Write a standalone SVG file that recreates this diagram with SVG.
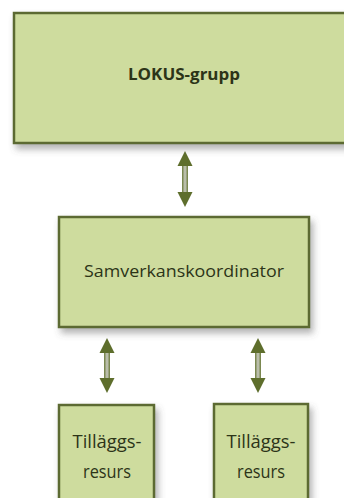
<svg xmlns="http://www.w3.org/2000/svg" width="344" height="498" viewBox="0 0 344 498">
<defs>
<filter id="sh" x="-20%" y="-20%" width="150%" height="150%">
<feDropShadow dx="3" dy="5" stdDeviation="3.5" flood-color="#555" flood-opacity="0.45"/>
</filter>
<linearGradient id="shaft" x1="0" y1="0" x2="1" y2="0">
<stop offset="0" stop-color="#6b7a3a"/>
<stop offset="0.5" stop-color="#c9cbc0"/>
<stop offset="1" stop-color="#6b7a3a"/>
</linearGradient>
<style>
.box{fill:#cedc9e;stroke:#5c6b33;stroke-width:2.5;filter:url(#sh)}
.t{font-family:"Open Sans","Liberation Sans",sans-serif;fill:#2c3418;text-anchor:middle}
.head{fill:#5e6e2c}
</style>
</defs>
<rect width="344" height="498" fill="#ffffff"/>
<g id="connectors">
<g id="c1">
<rect x="182" y="164" width="6" height="30" fill="url(#shaft)"/>
<polygon class="head" points="185,151 177.5,166 192.5,166"/>
<polygon class="head" points="185,207 177.5,192 192.5,192"/>
</g>
<g id="c2">
<rect x="104" y="351" width="6" height="30" fill="url(#shaft)"/>
<polygon class="head" points="107,338 99.5,353 114.5,353"/>
<polygon class="head" points="107,393 99.5,378 114.5,378"/>
</g>
<g id="c3">
<rect x="255" y="351" width="6" height="30" fill="url(#shaft)"/>
<polygon class="head" points="258,338 250.5,353 265.5,353"/>
<polygon class="head" points="258,393 250.5,378 265.5,378"/>
</g>
</g>
<g id="lokus">
<rect class="box" x="14" y="13" width="340" height="130"/>
<text class="t" x="184" y="80" font-size="16.5" font-weight="bold" textLength="112" lengthAdjust="spacingAndGlyphs">LOKUS-grupp</text>
</g>
<g id="samverkan">
<rect class="box" x="59" y="217" width="250" height="110"/>
<text class="t" x="184" y="277" font-size="17" textLength="200" lengthAdjust="spacingAndGlyphs">Samverkanskoordinator</text>
</g>
<g id="tillagg1">
<rect class="box" x="59" y="405" width="95" height="100"/>
<text class="t" x="107" y="448" font-size="17.5" textLength="69" lengthAdjust="spacingAndGlyphs">Tilläggs-</text>
<text class="t" x="107" y="478" font-size="17.5" textLength="48" lengthAdjust="spacingAndGlyphs">resurs</text>
</g>
<g id="tillagg2">
<rect class="box" x="214" y="404" width="94" height="101"/>
<text class="t" x="261" y="448" font-size="17.5" textLength="69" lengthAdjust="spacingAndGlyphs">Tilläggs-</text>
<text class="t" x="261" y="478" font-size="17.5" textLength="48" lengthAdjust="spacingAndGlyphs">resurs</text>
</g>
</svg>
